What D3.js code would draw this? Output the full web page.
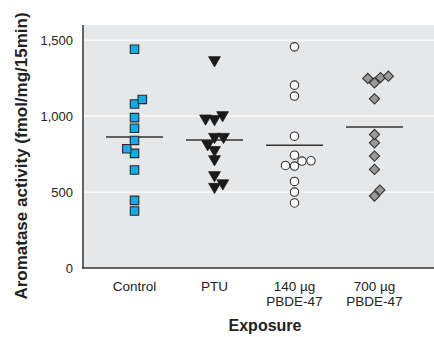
<!DOCTYPE html>
<html><head><meta charset="utf-8">
<script src="https://cdn.jsdelivr.net/npm/d3@7"></script>
<style>html,body{margin:0;padding:0;background:#fff;}svg{display:block;}</style>
</head><body>
<svg id="chart" width="434" height="337"></svg>
<script>
// ---- data ----
const categories = ["Control", "PTU", "140 µg PBDE-47", "700 µg PBDE-47"];
const categoryLines = [["Control"], ["PTU"], ["140 µg", "PBDE-47"], ["700 µg", "PBDE-47"]];
const controlValues = [1440, 1110, 1080, 990, 920, 840, 785, 755, 645, 445, 375];
const ptuValues = [1369, 1007, 985, 981, 864, 864, 816, 777, 717, 612, 558, 535];
const pbde140Values = [1456, 1204, 1132, 868, 743, 706, 704, 675, 671, 570, 500, 428];
const pbde700Values = [1263, 1254, 1248, 1219, 1114, 879, 824, 737, 649, 513, 474];
const meanValues = [862, 842, 809, 928];
const yTicks = [0, 500, 1000, 1500];
const yTitle = "Aromatase activity (fmol/mg/15min)";
const xTitle = "Exposure";

// ---- layout ----
const svg = d3.select("#chart");
const pLeft = 83, pRight = 434, pTop = 25, pBottom = 268;
const font = "'Liberation Sans', Arial, Helvetica, sans-serif";

const x = d3.scalePoint().domain(categories).range([pLeft, 426]).padding(0.644);
const y = d3.scaleLinear().domain([0, 1600]).range([pBottom, pTop]);

svg.append("rect").attr("x", pLeft).attr("y", pTop).attr("width", pRight - pLeft).attr("height", pBottom - pTop).attr("fill", "#e6e7e8");

svg.append("g").selectAll("line").data(yTicks.filter(t => t > 0)).join("line")
  .attr("x1", pLeft).attr("x2", pRight).attr("y1", d => y(d)).attr("y2", d => y(d))
  .attr("stroke", "#fff").attr("stroke-width", 1.2);

// axes
const yAxis = d3.axisLeft(y).tickValues(yTicks).tickSize(0).tickPadding(10).tickFormat(d3.format(","));
const gy = svg.append("g").attr("transform", `translate(${pLeft},0)`).call(yAxis);
gy.select(".domain").remove();
gy.selectAll("text").attr("font-family", font).attr("font-size", 13).attr("fill", "#222");

const xAxis = d3.axisBottom(x).tickSize(0).tickFormat("");
const gx = svg.append("g").attr("transform", `translate(0,${pBottom})`).call(xAxis);
gx.select(".domain").remove();

svg.append("line").attr("x1", pLeft).attr("x2", pLeft).attr("y1", pTop).attr("y2", pBottom + 0.75).attr("stroke", "#333").attr("stroke-width", 1.5);
svg.append("line").attr("x1", pLeft - 0.75).attr("x2", pRight).attr("y1", pBottom).attr("y2", pBottom).attr("stroke", "#333").attr("stroke-width", 1.5);

// category labels
categories.forEach((c, i) => {
  categoryLines[i].forEach((ln, j) => {
    svg.append("text").attr("x", x(c)).attr("y", 291 + j * 14.8).attr("text-anchor", "middle")
      .attr("font-family", font).attr("font-size", 13.5).attr("fill", "#222").text(ln);
  });
});

// titles
svg.append("text").attr("transform", "translate(27,156) rotate(-90)").attr("text-anchor", "middle")
  .attr("font-family", font).attr("font-size", 17).attr("font-weight", "bold").attr("fill", "#222").text(yTitle);
svg.append("text").attr("x", 265).attr("y", 331).attr("text-anchor", "middle")
  .attr("font-family", font).attr("font-size", 16).attr("font-weight", "bold").attr("fill", "#222").text(xTitle);

// dodge layout (beeswarm) for overlapping points
function dodge(values, d, startSide) {
  let flip = startSide;
  const items = values.map(v => ({v, py: y(v)})).sort((a, b) => a.v - b.v);
  const placed = [];
  items.forEach(it => {
    const cands = [0];
    placed.forEach(p => {
      const dy = Math.abs(p.py - it.py);
      if (dy < d) { const a = Math.sqrt(d * d - dy * dy); cands.push(p.dx - a, p.dx + a); }
    });
    const ok = cands.filter(c => placed.every(p => (p.dx - c) ** 2 + (p.py - it.py) ** 2 >= d * d - 1e-6));
    ok.sort((a, b) => {
      const diff = Math.abs(a) - Math.abs(b);
      if (Math.abs(diff) > 1e-6) return diff;
      return (Math.sign(b) === flip) - (Math.sign(a) === flip);
    });
    it.dx = ok[0];
    if (Math.abs(it.dx) > 1e-6) flip = -flip;
    placed.push(it);
  });
  return placed;
}

const groups = [
  {cat: categories[0], values: controlValues, d: 9, side: -1, sym: d3.symbolSquare, size: 72, rot: 0, fill: "#12ade6", stroke: "#2a2a2a", sw: 1.1},
  {cat: categories[1], values: ptuValues, d: 9, side: 1, sym: d3.symbolTriangle, size: 60, rot: 180, fill: "#1a1a1a", stroke: "#1a1a1a", sw: 0.8},
  {cat: categories[2], values: pbde140Values, d: 9, side: -1, sym: d3.symbolCircle, size: 56, rot: 0, fill: "#ffffff", stroke: "#333", sw: 1.1},
  {cat: categories[3], values: pbde700Values, d: 8, side: 1, sym: d3.symbolSquare, size: 52, rot: 45, fill: "#999999", stroke: "#333", sw: 1.1}
];

groups.forEach((g, gi) => {
  svg.append("line").attr("x1", x(g.cat) - 28.5).attr("x2", x(g.cat) + 28.5)
    .attr("y1", y(meanValues[gi])).attr("y2", y(meanValues[gi])).attr("stroke", "#333").attr("stroke-width", 1.5);
  const pts = dodge(g.values, g.d, g.side);
  svg.append("g").selectAll("path").data(pts).join("path")
    .attr("d", d3.symbol().type(g.sym).size(g.size))
    .attr("transform", p => `translate(${x(g.cat) + p.dx},${p.py}) rotate(${g.rot})`)
    .attr("fill", g.fill).attr("stroke", g.stroke).attr("stroke-width", g.sw);
});
</script>
</body></html>
